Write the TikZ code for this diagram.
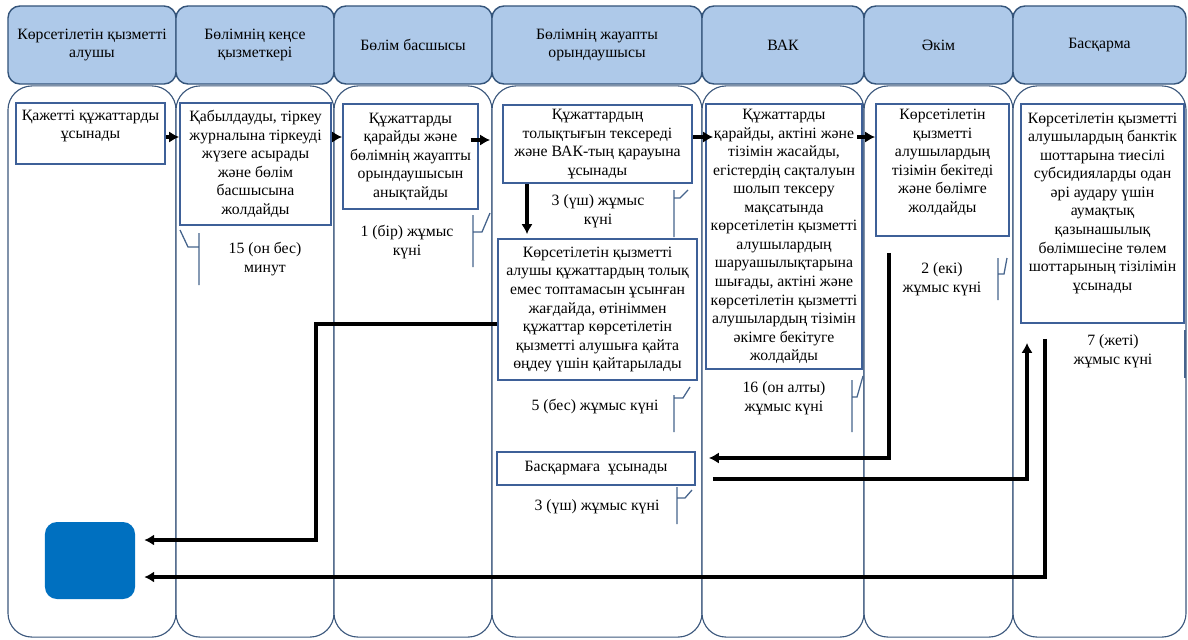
\documentclass[tikz,border=0pt]{standalone}
\usepackage{fontspec}
\setmainfont{Liberation Serif}
\usepackage{tikz}
\usetikzlibrary{arrows.meta,positioning}
\definecolor{hdrfill}{RGB}{174,201,233}
\definecolor{hdrdraw}{RGB}{52,84,122}
\definecolor{lanedraw}{RGB}{60,88,125}
\definecolor{boxdraw}{RGB}{62,96,152}
\definecolor{notedraw}{RGB}{70,100,140}
\definecolor{finfill}{RGB}{0,112,192}
\tikzset{
  every node/.style={font=\fontsize{11.2}{13.2}\selectfont},
  lane/.style={draw=lanedraw,line width=0.8pt,rounded corners=0.6cm,fill=white,minimum height=13.775cm},
  hdr/.style={draw=hdrdraw,line width=1pt,fill=hdrfill,rounded corners=0.3cm,align=center,minimum height=1.95cm},
  pbox/.style={draw=boxdraw,line width=1.3pt,fill=white,align=center,inner sep=1pt},
  note/.style={align=center,inner sep=1pt},
  flow/.style={-{Latex[length=7pt,width=8pt]},line width=2.4pt,black},
  brk/.style={draw=notedraw,line width=0.9pt}
}

\begin{document}
\begin{tikzpicture}[x=0.025cm,y=-0.025cm]
\useasboundingbox[fill=white] (0,0) rectangle (1188,639);
% lanes
\node (L1) [lane,minimum width=4.2cm] at (92,361.5) {};
\node (L2) [lane,minimum width=3.95cm] at (255,361.5) {};
\node (L3) [lane,minimum width=3.95cm] at (413,361.5) {};
\node (L4) [lane,minimum width=5.25cm] at (597,361.5) {};
\node (L5) [lane,minimum width=4.05cm] at (783,361.5) {};
\node (L6) [lane,minimum width=3.725cm] at (938.5,361.5) {};
\node (L7) [lane,minimum width=4.325cm] at (1099.5,361.5) {};
% headers
\node (H1) [hdr,minimum width=4.2cm] at (92,45) {Көрсетілетін қызметті\\алушы};
\node (H2) [hdr,minimum width=3.95cm] at (255,45) {Бөлімнің кеңсе\\қызметкері};
\node (H3) [hdr,minimum width=3.95cm] at (413,45) {Бөлім басшысы};
\node (H4) [hdr,minimum width=5.25cm] at (597,45) {Бөлімнің жауапты\\орындаушысы};
\node (H5) [hdr,minimum width=4.05cm] at (783,45) {ВАК};
\node (H6) [hdr,minimum width=3.725cm] at (938.5,45) {Әкім};
\node (H7) [hdr,minimum width=4.325cm] at (1099.5,45) {Басқарма};
% steps
\node (B1) [pbox,minimum width=3.725cm,minimum height=1.525cm] at (90.5,133.5) {Қажетті құжаттарды\\ұсынады\\\mbox{}};
\node (B2) [pbox,minimum width=3.775cm,minimum height=3.05cm] at (255.5,164) {Қабылдауды, тіркеу\\журналына тіркеуді\\жүзеге асырады\\және бөлім\\басшысына\\жолдайды};
\node (B3) [pbox,minimum width=3.375cm,minimum height=2.625cm] at (410.5,156.5) {Құжаттарды\\қарайды және\\бөлімнің жауапты\\орындаушысын\\анықтайды};
\node (B4) [pbox,minimum width=4.725cm,minimum height=1.95cm] at (597.5,144) {Құжаттардың\\толықтығын тексереді\\және ВАК-тың қарауына\\ұсынады};
\node (B5) [pbox,minimum width=3.9cm,minimum height=6.625cm] at (784,236.5) {Құжаттарды\\қарайды, актіні және\\тізімін жасайды,\\егістердің сақталуын\\шолып тексеру\\мақсатында\\көрсетілетін қызметті\\алушылардың\\шаруашылықтарына\\шығады, актіні және\\көрсетілетін қызметті\\алушылардың тізімін\\әкімге бекітуге\\жолдайды};
\node (B6) [pbox,minimum width=3.325cm,minimum height=3.3cm] at (942.5,170) {Көрсетілетін\\қызметті\\алушылардың\\тізімін бекітеді\\және бөлімге\\жолдайды\\\mbox{}};
\node (B7) [pbox,minimum width=4.075cm,minimum height=5.475cm] at (1102.5,213.5) {Көрсетілетін қызметті\\алушылардың банктік\\шоттарына тиесілі\\субсидияларды одан\\әрі аудару үшін\\аумақтық\\қазынашылық\\бөлімшесіне төлем\\шоттарының тізілімін\\ұсынады\\[4pt]\mbox{}};
\node (B8) [pbox,minimum width=4.975cm,minimum height=3.525cm] at (597.5,309.5) {Көрсетілетін қызметті\\алушы құжаттардың толық\\емес топтамасын ұсынған\\жағдайда, өтініммен\\құжаттар көрсетілетін\\қызметті алушыға қайта\\өңдеу үшін қайтарылады};
\node (B9) [pbox,minimum width=4.95cm,minimum height=0.825cm] at (596,468.5) {Басқармаға~~ұсынады};
\node (Fin) [fill=finfill,rounded corners=0.3cm,minimum width=2.25cm,minimum height=1.925cm] at (90,560.5) {};
% times
\node (T1) [note] at (265,259) {15 (он бес)\\минут};
\node (T2) [note] at (407,242) {1 (бір) жұмыс\\күні};
\node (T3) [note] at (598,211) {3 (үш) жұмыс\\күні};
\node (T4) [note] at (595,407) {5 (бес) жұмыс күні};
\node (T5) [note] at (597,507) {3 (үш) жұмыс күні};
\node (T6) [note] at (784,398) {16 (он алты)\\жұмыс күні};
\node (T7) [note] at (942,279) {2 (екі)\\жұмыс күні};
\node (T8) [note] at (1113,351) {7 (жеті)\\жұмыс күні};
\draw[brk] (180,230) -- (188,247) -- (199,247) (199,233) -- (199,285);
\draw[brk] (473,215) -- (473,267) (473,232) -- (482,232) -- (490,213);
\draw[brk] (674,190) -- (674,237) (674,198) -- (680,198) -- (688,190);
\draw[brk] (674,395) -- (674,432) (674,398) -- (683,398) -- (690,387);
\draw[brk] (677,487) -- (677,524) (677,498) -- (685,498) -- (692,490);
\draw[brk] (852,380) -- (852,432) (852,397) -- (857,397) -- (863,376);
\draw[brk] (998,258) -- (998,300) (998,274) -- (1004,274) -- (1007,258);
\draw[brk] (1185,330) -- (1185,378);
% rows and bends
\coordinate (r1) at (0,137);
\coordinate (r2) at (0,140);
\coordinate (v1) at (527,0);
\coordinate (kA) at (316,324);
\coordinate (kB) at (316,540);
\coordinate (kC) at (889,458);
\coordinate (kD) at (1027,479);
\coordinate (kE) at (1045,577);
% flow
\draw[flow] (B1.east |- r1) -- (B2.west |- r1);
\draw[flow] (B2.east |- r1) -- (B3.west |- r1);
\draw[flow,shorten <=-6pt,shorten >=0.3cm] (B3.east |- r2) -- (B4.west |- r2);
\draw[flow,shorten >=-0.2cm] (B4.east |- r1) -- (B5.west |- r1);
\draw[flow,shorten <=-4pt] (B5.east |- r1) -- (B6.west |- r1);
\draw[flow,shorten >=0.1cm] (B4.south -| v1) -- (B8.north -| v1);
\draw[flow,shorten >=0.225cm] (B8.west |- kA) -- (kA) -- (kB) -- (Fin.east |- kB);
\draw[flow,shorten <=0.4cm,shorten >=0.325cm] (B6.south -| kC) -- (kC) -- (B9.east |- kC);
\draw[flow,shorten <=0.425cm,shorten >=0.475cm] (B9.east |- kD) -- (kD) -- (B7.south -| kD);
\draw[flow,shorten <=0.375cm,shorten >=0.225cm] (B7.south -| kE) -- (kE) -- (Fin.east |- kE);
\end{tikzpicture}
\end{document}
